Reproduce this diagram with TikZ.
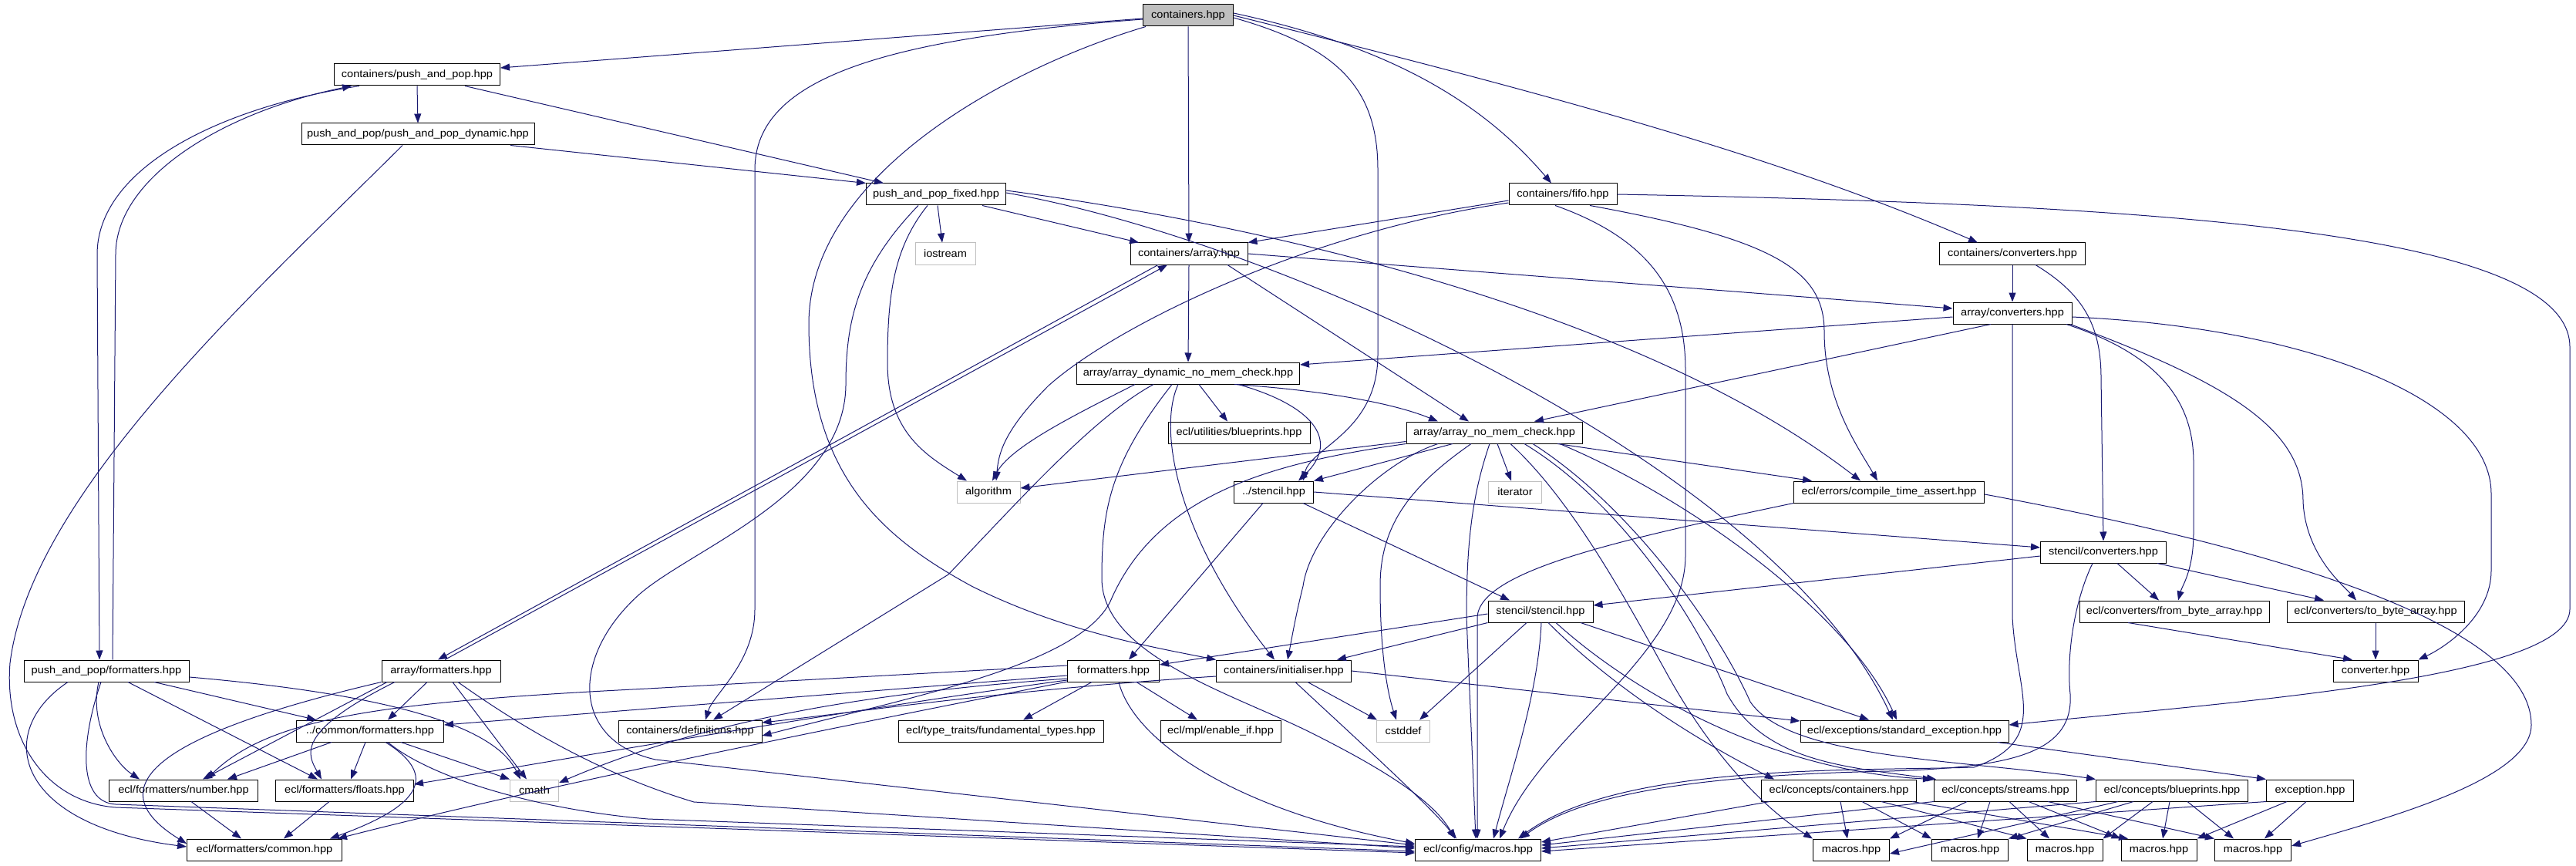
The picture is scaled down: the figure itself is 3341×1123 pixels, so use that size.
\documentclass[tikz,border=0pt]{standalone}
\usepackage{fontspec}
\newfontfamily\nf[FakeStretch=1.08]{Liberation Sans}
\usetikzlibrary{arrows.meta}
\definecolor{edgec}{RGB}{25,25,112}
\definecolor{sysc}{RGB}{191,191,191}
\begin{document}
\begin{tikzpicture}[x=1pt,y=-1pt,
  box/.style={draw=black, line width=1pt, fill=white, minimum height=28pt, inner sep=0pt, font=\nf\fontsize{13.5pt}{15pt}\selectfont},
  sys/.style={box, draw=sysc},
  e/.style={draw=edgec, line width=1pt, -{Triangle[length=12pt,width=9pt]}}]
\useasboundingbox (0,0) rectangle (3341,1123);
% nodes
\node[box, fill=sysc, minimum width=117pt] (root) at (1541,20) {containers.hpp};
\node[box, minimum width=215pt] (pp) at (541,97) {containers/push\_and\_pop.hpp};
\node[box, minimum width=302pt] (ppd) at (542,174) {push\_and\_pop/push\_and\_pop\_dynamic.hpp};
\node[box, minimum width=181pt] (ppf) at (1214,252) {push\_and\_pop\_fixed.hpp};
\node[box, minimum width=140pt] (fifo) at (2027,252) {containers/fifo.hpp};
\node[sys, minimum width=78pt] (ios) at (1226,329) {iostream};
\node[box, minimum width=152pt] (arr) at (1542,329) {containers/array.hpp};
\node[box, minimum width=189pt] (conv) at (2610,329) {containers/converters.hpp};
\node[box, minimum width=154pt] (aconv) at (2610,406) {array/converters.hpp};
\node[box, minimum width=289pt] (adyn) at (1541,484) {array/array\_dynamic\_no\_mem\_check.hpp};
\node[box, minimum width=184pt] (ublue) at (1607,561) {ecl/utilities/blueprints.hpp};
\node[box, minimum width=228pt] (anmc) at (1938,561) {array/array\_no\_mem\_check.hpp};
\node[sys, minimum width=82pt] (alg) at (1282,638) {algorithm};
\node[box, minimum width=103pt] (sten) at (1652,638) {../stencil.hpp};
\node[sys, minimum width=69pt] (iter) at (1965,638) {iterator};
\node[box, minimum width=247pt] (cta) at (2450,638) {ecl/errors/compile\_time\_assert.hpp};
\node[box, minimum width=163pt] (sconv) at (2728,716) {stencil/converters.hpp};
\node[box, minimum width=136pt] (sst) at (1998,793) {stencil/stencil.hpp};
\node[box, minimum width=246pt] (fba) at (2820,793) {ecl/converters/from\_byte\_array.hpp};
\node[box, minimum width=230pt] (tba) at (3081,793) {ecl/converters/to\_byte\_array.hpp};
\node[box, minimum width=214pt] (ppfmt) at (138,870) {push\_and\_pop/formatters.hpp};
\node[box, minimum width=154pt] (afmt) at (572,870) {array/formatters.hpp};
\node[box, minimum width=119pt] (fmt) at (1444,870) {formatters.hpp};
\node[box, minimum width=175pt] (init) at (1665,870) {containers/initialiser.hpp};
\node[box, minimum width=110pt] (cvt) at (3081,870) {converter.hpp};
\node[box, minimum width=191pt] (cfmt) at (480,948) {../common/formatters.hpp};
\node[box, minimum width=186pt] (defs) at (895,948) {containers/definitions.hpp};
\node[box, minimum width=266pt] (fund) at (1298,948) {ecl/type\_traits/fundamental\_types.hpp};
\node[box, minimum width=156pt] (enab) at (1583,948) {ecl/mpl/enable\_if.hpp};
\node[sys, minimum width=69pt] (cstd) at (1820,948) {cstddef};
\node[box, minimum width=270pt] (stdex) at (2470,948) {ecl/exceptions/standard\_exception.hpp};
\node[box, minimum width=193pt] (num) at (238,1025) {ecl/formatters/number.hpp};
\node[box, minimum width=179pt] (flt) at (447,1025) {ecl/formatters/floats.hpp};
\node[sys, minimum width=63pt] (cmath) at (693,1025) {cmath};
\node[box, minimum width=201pt] (ccont) at (2385,1025) {ecl/concepts/containers.hpp};
\node[box, minimum width=185pt] (cstr) at (2601,1025) {ecl/concepts/streams.hpp};
\node[box, minimum width=197pt] (cblue) at (2817,1025) {ecl/concepts/blueprints.hpp};
\node[box, minimum width=113pt] (exc) at (2996,1025) {exception.hpp};
\node[box, minimum width=201pt] (common) at (343,1102) {ecl/formatters/common.hpp};
\node[box, minimum width=163pt] (cmac) at (1917,1102) {ecl/config/macros.hpp};
\node[box, minimum width=99pt] (m1) at (2401,1102) {macros.hpp};
\node[box, minimum width=99pt] (m2) at (2555,1102) {macros.hpp};
\node[box, minimum width=98pt] (m3) at (2678,1102) {macros.hpp};
\node[box, minimum width=98pt] (m4) at (2800,1102) {macros.hpp};
\node[box, minimum width=99pt] (m5) at (2922,1102) {macros.hpp};
% root
\draw[e] ([yshift=-4pt]root.west) -- ([yshift=9pt]pp.east);
\draw[e] ([yshift=-5pt]root.west) .. controls (1150,50) and (979,100) .. (979,220) -- (979,790) .. controls (979,860) and (925,900) .. ([xshift=20pt]defs.north);
\draw[e] ([xshift=-55pt]root.south) .. controls (1300,90) and (1049,230) .. (1049,420) .. controls (1049,620) and (1150,700) .. (1260,760) .. controls (1380,820) and (1500,840) .. (init.north west);
\draw[e] (root.south) -- (arr.north);
\draw[e] ([yshift=3pt]root.east) .. controls (1800,60) and (1920,130) .. ([xshift=-15pt]fifo.north);
\draw[e] (root.east) .. controls (2000,120) and (2300,200) .. ([xshift=-45pt]conv.north);
\draw[e] ([yshift=-3pt]root.east) .. controls (1730,60) and (1787,110) .. (1787,220) -- (1787,460) .. controls (1787,560) and (1700,580) .. ([xshift=38pt]sten.north);
% push_and_pop
\draw[e] (pp.south) -- (ppd.north);
\draw[e] ([xshift=62pt]pp.south) -- ([xshift=-68pt]ppf.north);
\draw[e] ([xshift=-75pt]pp.south) .. controls (280,140) and (126,220) .. (126,330) -- ([xshift=-9pt]ppfmt.north);
\draw[e] ([xshift=8pt]ppfmt.north) -- (150,330) .. controls (150,230) and (290,145) .. ([xshift=-85pt]pp.south);
% dynamic
\draw[e] ([xshift=120pt]ppd.south) -- (ppf.north west);
\draw[e] ([xshift=-20pt]ppd.south) .. controls (330,380) and (40,640) .. (13,860) .. controls (5,960) and (60,1040) .. (150,1047) -- ([yshift=-4pt]cmac.west);
% fixed
\draw[e] ([xshift=2pt]ppf.south) -- ([xshift=-4pt]ios.north);
\draw[e] ([xshift=60pt]ppf.south) -- ([xshift=-65pt]arr.north);
\draw[e] ([xshift=-11pt]ppf.south) .. controls (1160,320) and (1151,380) .. (1151,470) .. controls (1151,560) and (1200,590) .. ([xshift=-28pt]alg.north);
\draw[e] ([xshift=-23pt]ppf.south) .. controls (1110,350) and (1097,420) .. (1097,500) .. controls (1095,640) and (900,710) .. (830,770) .. controls (740,850) and (740,960) .. (850,985) -- ([yshift=6pt]cmac.west);
\draw[e] ([yshift=5pt]ppf.east) .. controls (1700,300) and (2150,420) .. ([xshift=-37pt]cta.north);
\draw[e] ([yshift=2pt]ppf.east) .. controls (1650,310) and (2300,600) .. ([xshift=-15pt]stdex.north);
% fifo
\draw[e] ([yshift=-8pt]fifo.west) -- (arr.north east);
\draw[e] ([yshift=-11pt]fifo.west) .. controls (1700,300) and (1450,420) .. (1360,500) .. controls (1300,560) and (1295,590) .. ([xshift=10pt]alg.north);
\draw[e] ([xshift=-10pt]fifo.south) .. controls (2140,310) and (2186,380) .. (2186,480) -- (2186,720) .. controls (2186,850) and (2000,950) .. ([xshift=28pt]cmac.north);
\draw[e] ([xshift=35pt]fifo.south) .. controls (2300,310) and (2366,350) .. (2366,430) .. controls (2366,520) and (2410,580) .. ([xshift=-15pt]cta.north);
\draw[e] (fifo.east) .. controls (2800,265) and (3333,300) .. (3333,450) -- (3333,790) .. controls (3333,880) and (2900,910) .. ([yshift=8pt]stdex.east);
% array
\draw[e] (arr.south) -- (adyn.north);
\draw[e] ([xshift=50pt]arr.south) -- ([xshift=-33pt]anmc.north);
\draw[e] (arr.east) -- ([yshift=6pt]aconv.west);
\draw[e] ([xshift=-40pt]arr.south) -- ([xshift=-4pt]afmt.north);
\draw[e] ([xshift=5pt]afmt.north) -- ([xshift=-28pt]arr.south);
% converters
\draw[e] (conv.south) -- (aconv.north);
\draw[e] ([xshift=30pt]conv.south) .. controls (2700,380) and (2725,420) .. (2725,490) -- (sconv.north);
\draw[e] ([yshift=-5pt]aconv.west) -- ([yshift=11pt]adyn.east);
\draw[e] ([xshift=-28pt]aconv.south) -- ([xshift=52pt]anmc.north);
\draw[e] (aconv.south) -- (2610,800) .. controls (2615,900) and (2660,960) .. (2560,995) .. controls (2400,1000) and (2100,990) .. ([xshift=52pt]cmac.north);
\draw[e] ([xshift=70pt]aconv.south) .. controls (2800,460) and (2845,520) .. (2845,600) -- (2845,690) .. controls (2845,740) and (2830,760) .. ([xshift=5pt]fba.north);
\draw[e] ([xshift=75pt]aconv.south) .. controls (2900,500) and (2987,560) .. (2987,650) .. controls (2990,720) and (3040,760) .. ([xshift=-25pt]tba.north);
\draw[e] ([yshift=-5pt]aconv.east) .. controls (3000,425) and (3231,520) .. (3231,640) -- (3231,740) .. controls (3231,800) and (3170,840) .. (cvt.north east);
% array dynamic
\draw[e] ([xshift=-69pt]adyn.south) .. controls (1390,540) and (1310,580) .. ([xshift=5pt]alg.north);
\draw[e] ([xshift=-45pt]adyn.south) .. controls (1420,540) and (1330,640) .. (1230,745) -- ([xshift=30pt]defs.north);
\draw[e] ([xshift=-21pt]adyn.south) .. controls (1440,600) and (1429,660) .. (1429,750) .. controls (1429,850) and (1600,900) .. (1700,950) .. controls (1800,1000) and (1860,1040) .. ([xshift=-30pt]cmac.north);
\draw[e] ([xshift=-13pt]adyn.south) .. controls (1500,560) and (1530,700) .. ([xshift=-12pt]init.north);
\draw[e] ([xshift=14pt]adyn.south) -- ([xshift=-15pt]ublue.north);
\draw[e] ([xshift=60pt]adyn.south) .. controls (1700,505) and (1800,520) .. ([xshift=-73pt]anmc.north);
\draw[e] ([xshift=65pt]adyn.south) .. controls (1700,525) and (1740,570) .. ([xshift=32pt]sten.north);
% array no mem check
\draw[e] ([yshift=3pt]anmc.south west) -- ([yshift=5pt]alg.east);
\draw[e] (anmc.south west) .. controls (1650,600) and (1500,640) .. (1440,780) .. controls (1400,860) and (1200,900) .. ([yshift=-6pt]defs.east);
\draw[e] ([xshift=-54pt]anmc.south) -- (sten.north east);
\draw[e] ([xshift=-73pt]anmc.south) .. controls (1790,600) and (1700,690) .. (1690,760) .. controls (1680,800) and (1675,830) .. ([xshift=5pt]init.north);
\draw[e] ([xshift=-30pt]anmc.south) .. controls (1830,630) and (1790,680) .. (1790,760) .. controls (1790,850) and (1800,900) .. ([xshift=-9pt]cstd.north);
\draw[e] ([xshift=-6pt]anmc.south) .. controls (1910,640) and (1902,700) .. (1902,800) -- ([xshift=-3pt]cmac.north);
\draw[e] ([xshift=4pt]anmc.south) -- ([xshift=-5pt]iter.north);
\draw[e] ([xshift=21pt]anmc.south) .. controls (2040,650) and (2110,780) .. (2160,870) .. controls (2220,980) and (2290,1050) .. (m1.north west);
\draw[e] ([xshift=39pt]anmc.south) .. controls (2100,650) and (2200,800) .. (2240,900) .. controls (2290,990) and (2400,995) .. ([xshift=3pt]cstr.north west);
\draw[e] ([xshift=50pt]anmc.south) .. controls (2120,660) and (2230,820) .. (2270,910) .. controls (2320,985) and (2550,985) .. (cblue.north west);
\draw[e] ([xshift=82pt]anmc.south) -- ([xshift=-100pt]cta.north);
\draw[e] ([xshift=85pt]anmc.south) .. controls (2200,650) and (2400,800) .. ([xshift=-10pt]stdex.north);
% stencil
\draw[e] (sten.east) -- ([yshift=6pt]sconv.west);
\draw[e] ([xshift=-14pt]sten.south) -- ([xshift=20pt]fmt.north);
\draw[e] ([xshift=38pt]sten.south) -- ([xshift=-40pt]sst.north);
% compile time assert
\draw[e] (cta.south west) .. controls (2100,700) and (1920,740) .. (1916,800) -- ([xshift=-1pt]cmac.north);
\draw[e] ([yshift=-3pt]cta.east) .. controls (3000,720) and (3283,820) .. (3283,940) .. controls (3283,1010) and (3100,1060) .. ([yshift=5pt]m5.east);
% stencil converters
\draw[e] ([yshift=-5pt]sconv.west) -- ([yshift=8pt]sst.east);
\draw[e] ([xshift=18pt]sconv.south) -- ([xshift=-20pt]fba.north);
\draw[e] ([xshift=70pt]sconv.south) -- ([xshift=-67pt]tba.north);
\draw[e] ([xshift=-14pt]sconv.south) .. controls (2690,780) and (2680,850) .. (2685,900) .. controls (2690,980) and (2600,995) .. (2450,1000) .. controls (2200,1005) and (2050,1030) .. ([xshift=55pt]cmac.north);
\draw[e] ([xshift=-60pt]fba.south) -- ([xshift=-30pt]cvt.north);
\draw[e] (tba.south) -- (cvt.north);
% stencil/stencil
\draw[e] ([yshift=-3pt]sst.west) -- ([yshift=8pt]fmt.east);
\draw[e] (sst.south west) -- ([xshift=69pt]init.north);
\draw[e] ([xshift=-18pt]sst.south) -- ([xshift=21pt]cstd.north);
\draw[e] ([xshift=1pt]sst.south) .. controls (1995,900) and (1960,1000) .. ([xshift=20pt]cmac.north);
\draw[e] ([xshift=10pt]sst.south) .. controls (2100,900) and (2220,970) .. ([xshift=-84pt]ccont.north);
\draw[e] ([xshift=20pt]sst.south) .. controls (2120,900) and (2300,1000) .. ([xshift=-2pt]cstr.north west);
\draw[e] ([xshift=52pt]sst.south) -- ([xshift=-46pt]stdex.north);
% initialiser
\draw[e] ([yshift=-7pt]init.west) .. controls (1300,895) and (1100,925) .. ([yshift=11pt]defs.east);
\draw[e] ([xshift=31pt]init.south) -- ([xshift=-34pt]cstd.north);
\draw[e] ([xshift=15pt]init.south) .. controls (1750,950) and (1850,1040) .. ([xshift=-28pt]cmac.north);
\draw[e] (init.east) -- ([yshift=13pt]stdex.west);
% formatters.hpp
\draw[e] ([xshift=-28pt]fmt.south) -- ([xshift=29pt]fund.north);
\draw[e] ([xshift=30pt]fmt.south) -- ([xshift=-30pt]enab.north);
\draw[e] ([xshift=7pt]fmt.south) .. controls (1470,960) and (1600,1050) .. ([yshift=8pt]cmac.west);
\draw[e] ([yshift=7pt]fmt.west) -- (840,893) .. controls (500,910) and (350,930) .. ([xshift=30pt]num.north);
\draw[e] ([yshift=-6pt]fmt.west) -- ([yshift=8pt]cfmt.east);
\draw[e] ([yshift=-10pt]fmt.west) .. controls (1100,900) and (900,940) .. ([yshift=10pt]cmath.east);
\draw[e] ([yshift=-12pt]fmt.west) .. controls (1100,920) and (700,990) .. ([yshift=8pt]flt.east);
\draw[e] ([yshift=-14pt]fmt.west) .. controls (1100,940) and (700,1020) .. ([xshift=95pt]common.north);
% common formatters
\draw[e] ([xshift=-50pt]cfmt.south) -- ([xshift=57pt]num.north);
\draw[e] ([xshift=-6pt]cfmt.south) -- ([xshift=8pt]flt.north);
\draw[e] ([xshift=40pt]cfmt.south) -- (cmath.north west);
\draw[e] ([xshift=20pt]cfmt.south) .. controls (560,1000) and (560,1040) .. ([xshift=85pt]common.north);
\draw[e] ([xshift=23pt]cfmt.south) .. controls (560,1010) and (700,1050) .. (840,1062) -- ([yshift=4pt]cmac.west);
% push_and_pop formatters
\draw[e] ([xshift=-50pt]ppfmt.south) .. controls (-10,950) and (20,1070) .. ([yshift=4pt]common.west);
\draw[e] ([xshift=-7pt]ppfmt.south) .. controls (105,960) and (100,1040) .. (150,1043) -- ([yshift=-2pt]cmac.west);
\draw[e] ([xshift=-10pt]ppfmt.south) .. controls (115,940) and (150,990) .. ([xshift=-57pt]num.north);
\draw[e] ([xshift=28pt]ppfmt.south) -- ([xshift=-35pt]flt.north);
\draw[e] ([xshift=62pt]ppfmt.south) -- ([xshift=-70pt]cfmt.north);
\draw[e] ([yshift=-8pt]ppfmt.east) .. controls (500,900) and (640,940) .. ([xshift=-18pt]cmath.north);
% array formatters
\draw[e] ([xshift=-18pt]afmt.south) -- ([xshift=23pt]cfmt.north);
\draw[e] ([xshift=15pt]afmt.south) -- ([xshift=-10pt]cmath.north);
\draw[e] ([xshift=22pt]afmt.south) .. controls (700,960) and (800,1010) .. (900,1040) -- ([yshift=2pt]cmac.west);
\draw[e] (afmt.south west) .. controls (300,930) and (90,1000) .. ([yshift=8pt]common.west);
\draw[e] ([xshift=-70pt]afmt.south) -- ([xshift=25pt]num.north);
\draw[e] ([xshift=-60pt]afmt.south) .. controls (380,950) and (400,980) .. ([xshift=-30pt]flt.north);
% numbers
\draw[e] ([xshift=10pt]num.south) -- ([xshift=-30pt]common.north);
\draw[e] ([xshift=-20pt]flt.south) -- ([xshift=25pt]common.north);
% exceptions
\draw[e] ([xshift=-15pt]stdex.south east) -- (exc.north west);
% concepts
\draw[e] ([xshift=-90pt]ccont.south) -- ([yshift=10pt]cmac.east);
\draw[e] ([xshift=2pt]ccont.south) -- ([xshift=-5pt]m1.north);
\draw[e] ([xshift=30pt]ccont.south) -- (m2.north west);
\draw[e] ([xshift=55pt]ccont.south) -- (m3.north west);
\draw[e] ([xshift=95pt]ccont.south) -- ([xshift=-40pt]m4.north);
\draw[e] (cstr.south west) -- ([yshift=6pt]cmac.east);
\draw[e] ([xshift=-50pt]cstr.south) -- (m1.north east);
\draw[e] ([xshift=-20pt]cstr.south) -- ([xshift=10pt]m2.north);
\draw[e] ([xshift=5pt]cstr.south) -- ([xshift=-20pt]m3.north);
\draw[e] ([xshift=30pt]cstr.south) -- (m4.north west);
\draw[e] ([xshift=55pt]cstr.south) -- (m5.north west);
\draw[e] (cblue.south west) -- ([yshift=2pt]cmac.east);
\draw[e] ([xshift=-70pt]cblue.south) -- ([yshift=-5pt]m1.east);
\draw[e] ([xshift=-50pt]cblue.south) -- (m2.north east);
\draw[e] ([xshift=-25pt]cblue.south) -- (m3.north east);
\draw[e] ([xshift=-3pt]cblue.south) -- ([xshift=5pt]m4.north);
\draw[e] ([xshift=20pt]cblue.south) -- ([xshift=-25pt]m5.north);
\draw[e] (exc.south west) -- ([yshift=-2pt]cmac.east);
\draw[e] ([xshift=-30pt]exc.south) -- (m4.north east);
\draw[e] ([xshift=-5pt]exc.south) -- ([xshift=15pt]m5.north);
\end{tikzpicture}
\end{document}
